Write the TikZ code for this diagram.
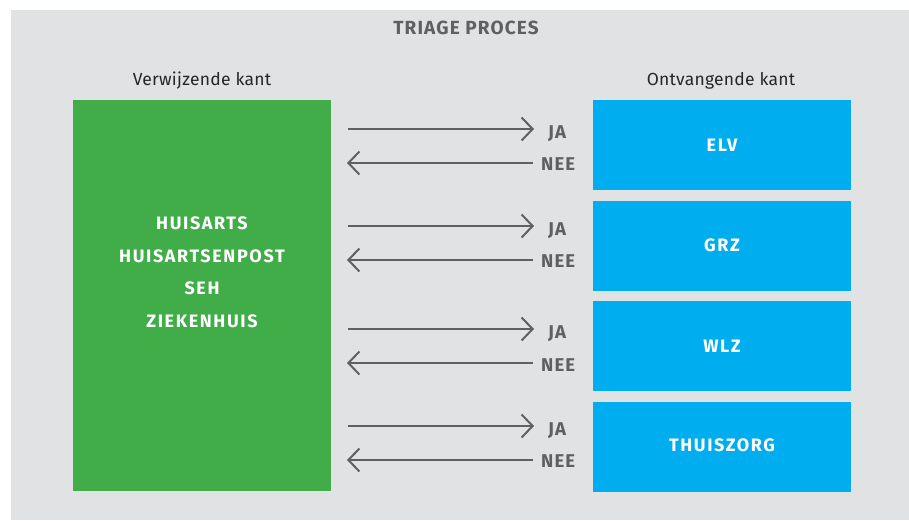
\documentclass[tikz,border=0pt]{standalone}
\usepackage{fontspec}
\setmainfont{Fira Sans}
\newfontfamily\capsfont[LetterSpace=9]{Fira Sans}
\newfontfamily\titlefont[LetterSpace=6]{Fira Sans}
\usetikzlibrary{arrows.meta}
\definecolor{bggray}{HTML}{E1E2E4}
\definecolor{txtgray}{HTML}{5F6062}
\definecolor{boxgreen}{HTML}{41AD49}
\definecolor{boxblue}{HTML}{00AEEF}
\tikzset{
  greenbox/.style={fill=boxgreen, draw=none, minimum width=258pt, minimum height=391pt, inner sep=0pt},
  bluebox/.style={fill=boxblue, draw=none, minimum width=258pt, minimum height=90pt, inner sep=0pt,
    text=white, font=\capsfont\bfseries\fontsize{18}{21}\selectfont},
  boxtext/.style={text=white, align=center, font=\capsfont\bfseries\fontsize{18}{32.5}\selectfont},
  sidelabel/.style={text=black!85, font=\fontsize{17.5}{20}\selectfont\addfontfeatures{LetterSpace=1.5}},
  yn/.style={text=txtgray, font=\titlefont\bfseries\fontsize{18.5}{21}\selectfont, inner sep=0pt},
  arr/.style={draw=txtgray, line width=2pt, -{Straight Barb[length=11pt, width=23pt, line width=2pt]}},
}
\begin{document}
\begin{tikzpicture}[x=1pt, y=-1pt]
\useasboundingbox (0,0) rectangle (909,520);
\fill[bggray] (11,10) rectangle (909,520);

\node[text=txtgray, font=\titlefont\bfseries\fontsize{19}{22}\selectfont] (title) at (466,28) {TRIAGE PROCES};
\node[sidelabel] (left) at (202,81) {Verwijzende kant};
\node[sidelabel] (right) at (721,81) {Ontvangende kant};

\node[greenbox] (green) at (202,295.5) {};
\node[boxtext] (greentext) at (202,272.5) {HUISARTS\\HUISARTSENPOST\\SEH\\ZIEKENHUIS};

\node[bluebox] (elv) at (722,145) {ELV};
\node[bluebox] (grz) at (722,246) {\raisebox{2pt}{GRZ}};
\node[bluebox] (wlz) at (722,346) {WLZ};
\node[bluebox] (thuis) at (722,446.5) {\raisebox{2pt}{THUISZORG}};

% labels
\node[yn, anchor=west] (ja1) at (548,134) {JA};
\node[yn, anchor=west] (nee1) at (541,164) {NEE};
\node[yn, anchor=west] (ja2) at (548,231) {JA};
\node[yn, anchor=west] (nee2) at (541,261) {NEE};
\node[yn, anchor=west] (ja3) at (548,334) {JA};
\node[yn, anchor=west] (nee3) at (541,365) {NEE};
\node[yn, anchor=west] (ja4) at (548,431) {JA};
\node[yn, anchor=west] (nee4) at (541,461) {NEE};

% arrow endpoints
\foreach \i/\yj/\yn in {1/129/163, 2/226/260, 3/329/363, 4/426/460}{
  \coordinate (js\i) at (348,\yj);
  \coordinate (je\i) at (534,\yj);
  \coordinate (ns\i) at (533,\yn);
  \coordinate (ne\i) at (347,\yn);
}
\foreach \i in {1,2,3,4}{
  \draw[arr] (js\i) -- (je\i);
  \draw[arr] (ns\i) -- (ne\i);
}
\end{tikzpicture}
\end{document}
